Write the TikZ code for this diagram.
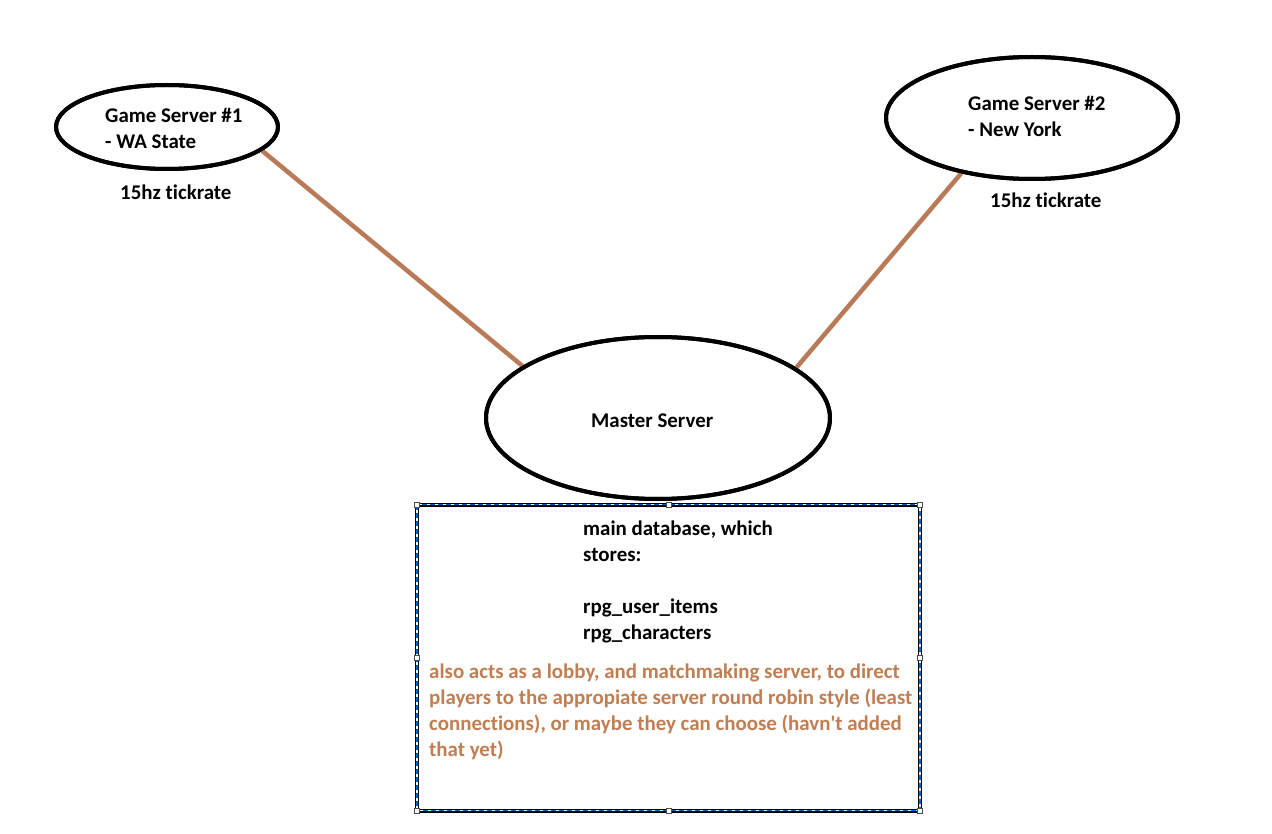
\documentclass[tikz,border=0pt]{standalone}
\usepackage{fontspec}
\setmainfont[Ligatures={NoCommon}]{Carlito}
\usetikzlibrary{shapes.geometric}
\definecolor{brownline}{RGB}{185,122,87}
\definecolor{orangetext}{RGB}{192,126,82}
\definecolor{selblue}{RGB}{0,102,204}
\tikzset{
  srv/.style={draw=black, line width=4pt, ellipse, inner sep=0pt, fill=white},
  conn/.style={draw=brownline, line width=4.5pt},
  txt/.style={anchor=base west, inner sep=0pt, font=\bfseries\fontsize{20.9}{26}\selectfont},
  otxt/.style={txt, text=orangetext},
  handle/.style={draw=black!70, fill=white, line width=1pt, minimum size=5pt, inner sep=0pt, rectangle}
}
\begin{document}
\begin{tikzpicture}[x=1pt,y=-1pt]
\useasboundingbox (0,0) rectangle (1272,834);
\fill[white] (0,0) rectangle (1272,834);
% ellipses
\node[srv, minimum width=222pt, minimum height=84pt] (g1) at (167,127) {};
\node[srv, minimum width=292pt, minimum height=122pt] (g2) at (1032,118) {};
\node[srv, minimum width=344pt, minimum height=162pt] (master) at (658,418) {};
% connectors
\draw[conn] (g1.-14) -- (master.159);
\draw[conn] (g2.-142) -- (master.20);
% redraw ellipse borders over connector ends
\draw[line width=4pt] (167,127) ellipse [x radius=111pt, y radius=42pt];
\draw[line width=4pt] (1032,118) ellipse [x radius=146pt, y radius=61pt];
\draw[line width=4pt] (658,418) ellipse [x radius=172pt, y radius=81pt];
% database box
\node[draw=black, line width=4pt, outer sep=0pt, minimum width=503pt, minimum height=306pt, inner sep=0pt, rectangle] (db) at (668.5,657.5) {};
\draw[white, line width=1.2pt] (db.north west) rectangle (db.south east);
\draw[selblue, line width=1.2pt, dash pattern=on 5pt off 3pt] (db.north west) rectangle (db.south east);
\foreach \a in {north west,north,north east,east,south east,south,south west,west}
  \node[handle] at (db.\a) {};
% texts
\node[txt] (g1a) at (105,123) {Game Server \#1};
\node[txt] (g1b) at (105,149) {- WA State};
\node[txt] (t1) at (120,200) {15hz tickrate};
\node[txt] (g2a) at (968,111) {Game Server \#2};
\node[txt] (g2b) at (968,137) {- New York};
\node[txt] (t2) at (990,208) {15hz tickrate};
\node[txt] (ms) at (591,427) {Master Server};
\node[txt] (d1) at (583,535) {main database, which};
\node[txt] (d2) at (583,561) {stores:};
\node[txt] (d3) at (583,613) {rpg\_user\_items};
\node[txt] (d4) at (583,639) {rpg\_characters};
\node[otxt] (p1) at (429,678) {also acts as a lobby, and matchmaking server, to direct};
\node[otxt] (p2) at (429,704) {players to the appropiate server round robin style (least};
\node[otxt] (p3) at (429,730) {connections), or maybe they can choose (havn\textquotesingle t added};
\node[otxt] (p4) at (429,756) {that yet)};
\end{tikzpicture}
\end{document}
